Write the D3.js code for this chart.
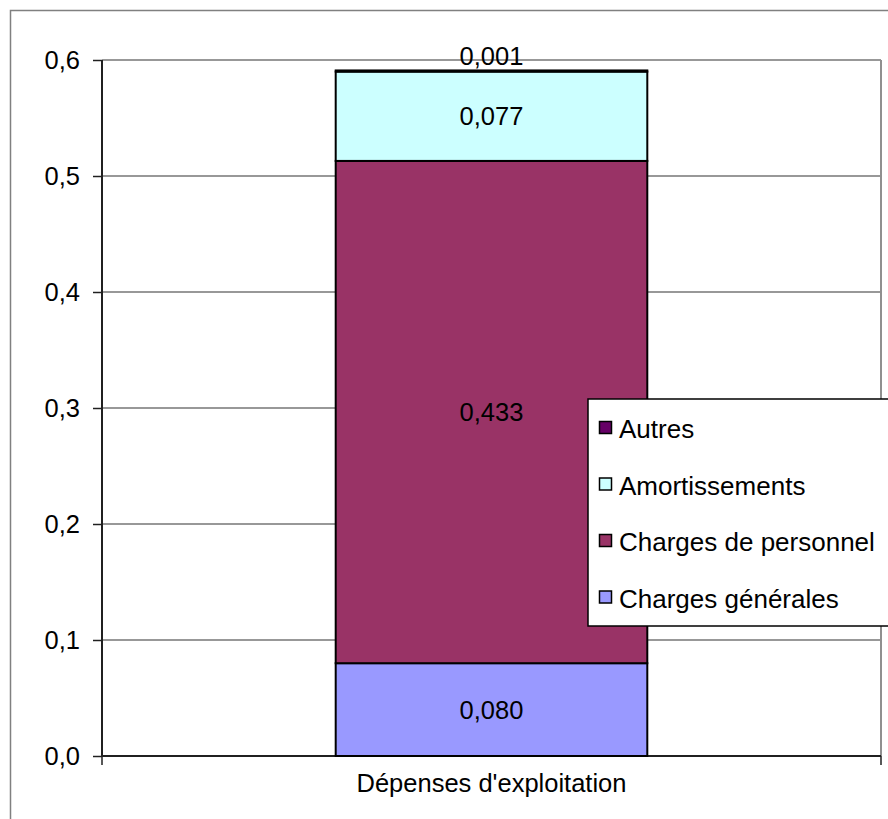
<!DOCTYPE html>
<html><head><meta charset="utf-8">
<script src="https://cdn.jsdelivr.net/npm/d3@7/dist/d3.min.js"></script>
<style>body{margin:0;background:#fff;}svg{display:block;font-family:"Liberation Sans",Arial,sans-serif;}</style>
</head><body>
<svg id="c" width="888" height="819"></svg>
<script>
const categories = ["Dépenses d'exploitation"];
const seriesNames = ["Charges générales", "Charges de personnel", "Amortissements", "Autres"];
const seriesColors = ["#9999ff", "#993366", "#ccffff", "#660066"];
const seriesValues = [[0.080], [0.433], [0.077], [0.001]];
const valueLabels = [["0,080"], ["0,433"], ["0,077"], ["0,001"]];
const yTicks = [0, 0.1, 0.2, 0.3, 0.4, 0.5, 0.6];
const yTickLabels = ["0,0", "0,1", "0,2", "0,3", "0,4", "0,5", "0,6"];
const legendOrder = ["Autres", "Amortissements", "Charges de personnel", "Charges générales"];

const FS = "25.5px";
const svg = d3.select("#c");
// outer frame
svg.append("path").attr("d","M10.5,819 V10.5 H888").attr("fill","none").attr("stroke","#808080").attr("stroke-width",1.5);

const L=102, R=881, T=60, B=756;
const y = d3.scaleLinear().domain([0,0.6]).range([B,T]);
const x = d3.scaleBand().domain(categories).range([L,R]).paddingInner(0.6).paddingOuter(0.3);

// gridlines
svg.append("g").selectAll("line").data(yTicks.slice(1)).join("line")
  .attr("x1",L).attr("x2",R).attr("y1",d=>y(d)).attr("y2",d=>y(d))
  .attr("stroke","#333").attr("stroke-width",1.2);
// right border
svg.append("line").attr("x1",R).attr("x2",R).attr("y1",T).attr("y2",B).attr("stroke","#909090").attr("stroke-width",2);

// y axis
const yAxis = d3.axisLeft(y).tickValues(yTicks).tickFormat((d,i)=>yTickLabels[i]).tickSize(9).tickPadding(13);
const gy = svg.append("g").attr("transform",`translate(${L},0)`).call(yAxis);
gy.select(".domain").attr("stroke","#202020").attr("stroke-width",2).attr("d",`M0,${T}V${B}`);
gy.selectAll(".tick line").attr("stroke","#202020").attr("stroke-width",1.5);
gy.selectAll(".tick text").attr("font-size",FS).attr("fill","#000").attr("font-family","Liberation Sans, Arial, sans-serif");

// x axis
const xAxis = d3.axisBottom(x).tickSize(0).tickPadding(18);
const gx = svg.append("g").attr("transform",`translate(0,${B})`).call(xAxis);
gx.select(".domain").attr("stroke","#202020").attr("stroke-width",2).attr("d",`M${L},0H${R}`);
gx.selectAll(".tick text").attr("font-size",FS).attr("fill","#000").attr("font-family","Liberation Sans, Arial, sans-serif");
[L,R].forEach(px=>svg.append("line").attr("x1",px).attr("x2",px).attr("y1",B).attr("y2",B+9).attr("stroke","#202020").attr("stroke-width",1.5));

// stacks
const table = categories.map((c,ci)=>{const o={cat:c}; seriesNames.forEach((s,si)=>o[s]=seriesValues[si][ci]); return o;});
const stack = d3.stack().keys(seriesNames)(table);
const bars = svg.append("g");
stack.forEach((layer,si)=>{
  bars.selectAll(null).data(layer).join("rect")
    .attr("x",d=>x(d.data.cat)).attr("width",x.bandwidth())
    .attr("y",d=>y(d[1])).attr("height",d=>y(d[0])-y(d[1]))
    .attr("fill",seriesColors[si]).attr("stroke","#000").attr("stroke-width",2);
});
// labels
stack.forEach((layer,si)=>{
  layer.forEach((d,ci)=>{
    const isTiny = (d[1]-d[0])<0.01;
    const cy = isTiny ? y(d[1]) - 14 : (y(d[0])+y(d[1]))/2;
    svg.append("text").attr("x",x(d.data.cat)+x.bandwidth()/2).attr("y",cy)
      .attr("text-anchor","middle").attr("dominant-baseline","central")
      .attr("font-size",FS).attr("fill","#000").text(valueLabels[si][ci]);
  });
});

// legend
const lg = svg.append("g").attr("transform","translate(588,399)");
lg.append("rect").attr("x",0).attr("y",0).attr("width",320).attr("height",227).attr("fill","#fff").attr("stroke","#000").attr("stroke-width",1.5);
legendOrder.forEach((name,i)=>{
  const si = seriesNames.indexOf(name);
  const yy = 29 + i*56.5;
  lg.append("rect").attr("x",11.5).attr("y",yy-6.5).attr("width",12).attr("height",12).attr("fill",seriesColors[si]).attr("stroke","#000").attr("stroke-width",1.5);
  lg.append("text").attr("x",31).attr("y",yy+1).attr("dominant-baseline","central").attr("font-size","26px").attr("fill","#000").text(name);
});
</script>
</body></html>
